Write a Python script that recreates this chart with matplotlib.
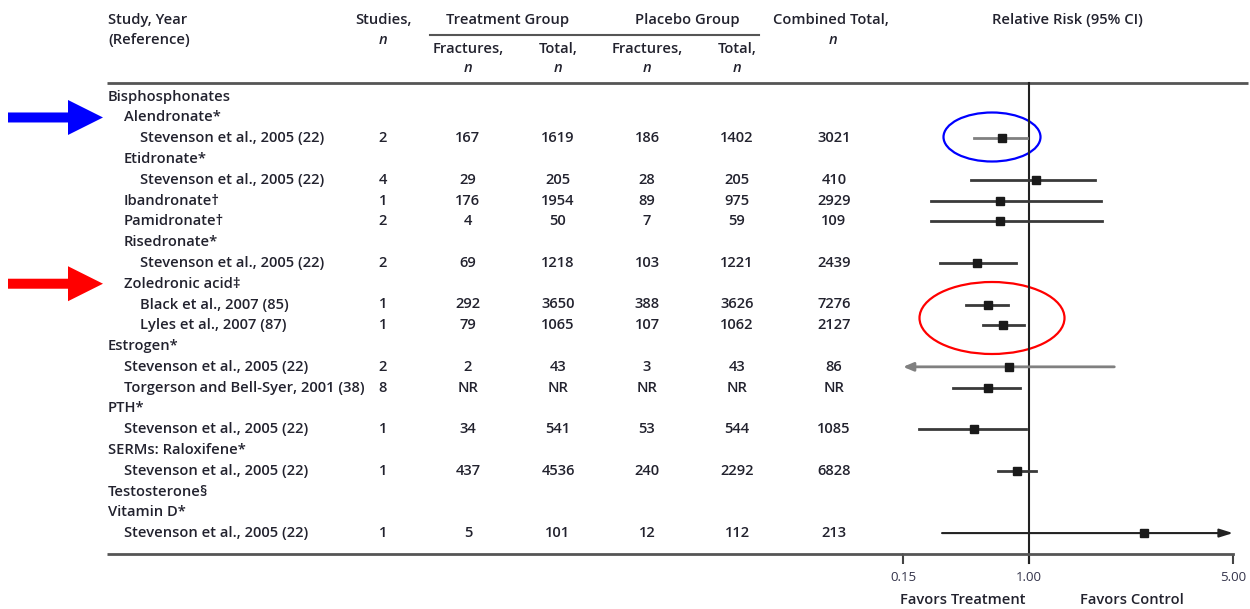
import numpy as np
import matplotlib
matplotlib.use("Agg")
import matplotlib.pyplot as plt
from matplotlib.patches import Ellipse, FancyArrow
from matplotlib.ticker import NullLocator

# --- data ---
labels = [
    "Bisphosphonates", "Alendronate*", "Stevenson et al., 2005 (22)",
    "Etidronate*", "Stevenson et al., 2005 (22)", "Ibandronate\u2020",
    "Pamidronate\u2020", "Risedronate*", "Stevenson et al., 2005 (22)",
    "Zoledronic acid\u2021", "Black et al., 2007 (85)", "Lyles et al., 2007 (87)",
    "Estrogen*", "Stevenson et al., 2005 (22)", "Torgerson and Bell-Syer, 2001 (38)",
    "PTH*", "Stevenson et al., 2005 (22)", "SERMs: Raloxifene*",
    "Stevenson et al., 2005 (22)", "Testosterone\u00a7", "Vitamin D*",
    "Stevenson et al., 2005 (22)",
]
indent = [0, 1, 2, 1, 2, 1, 1, 1, 2, 1, 2, 2, 0, 1, 1, 0, 1, 0, 1, 0, 0, 1]

# rows that carry numbers
data_rows = [2, 4, 5, 6, 8, 10, 11, 13, 14, 16, 18, 21]
n_studies = ["2", "4", "1", "2", "2", "1", "1", "2", "8", "1", "1", "1"]
trt_fx = ["167", "29", "176", "4", "69", "292", "79", "2", "NR", "34", "437", "5"]
trt_total = ["1619", "205", "1954", "50", "1218", "3650", "1065", "43", "NR", "541", "4536", "101"]
pla_fx = ["186", "28", "89", "7", "103", "388", "107", "3", "NR", "53", "240", "12"]
pla_total = ["1402", "205", "975", "59", "1221", "3626", "1062", "43", "NR", "544", "2292", "112"]
combined = ["3021", "410", "2929", "109", "2439", "7276", "2127", "86", "NR", "1085", "6828", "213"]

# relative risk with 95% CI
rr = [0.67, 1.06, 0.65, 0.65, 0.46, 0.54, 0.68, 0.74, 0.54, 0.44, 0.84, 2.48]
ci_lo = [0.44, 0.42, 0.23, 0.23, 0.26, 0.39, 0.50, 0.05, 0.32, 0.19, 0.63, 0.27]
ci_hi = [0.97, 1.68, 1.77, 1.78, 0.82, 0.73, 0.93, 1.96, 0.87, 0.96, 1.06, 9.0]

tick_vals = [0.15, 1.0, 5.0]
tick_text = ["0.15", "1.00", "5.00"]

# --- layout ---
W, H = 1250, 609
row0, row_step = 96.7, 20.78
def row_px(i):
    return row0 + row_step * i

indent_x = [108, 124, 140]
col_x = [383, 468, 558, 647, 737, 834]
txt_color = "#22222e"
font = ["Open Sans", "DejaVu Sans"]
fs = 10.6

plt.rcParams["font.family"] = font

fig = plt.figure(figsize=(W / 100, H / 100), dpi=100)
ax0 = fig.add_axes([0, 0, 1, 1])
ax0.set_xlim(0, W)
ax0.set_ylim(H, 0)
ax0.axis("off")

tkw = dict(color=txt_color, fontsize=fs, fontweight="semibold", va="center")

# header
ax0.text(108, 20, "Study, Year", ha="left", **tkw)
ax0.text(108, 40, "(Reference)", ha="left", **tkw)
ax0.text(383, 20, "Studies,", ha="center", **tkw)
ax0.text(383, 40, "n", ha="center", style="italic", **tkw)
ax0.text(508, 20, "Treatment Group", ha="center", **tkw)
ax0.text(687, 20, "Placebo Group", ha="center", **tkw)
ax0.plot([430, 759], [35, 35], color="#555555", lw=1.5)
for x, head in zip(col_x[1:5], ["Fractures,", "Total,", "Fractures,", "Total,"]):
    ax0.text(x, 49, head, ha="center", **tkw)
    ax0.text(x, 68, "n", ha="center", style="italic", **tkw)
ax0.text(831, 20, "Combined Total,", ha="center", **tkw)
ax0.text(833, 40, "n", ha="center", style="italic", **tkw)
ax0.text(1067, 20, "Relative Risk (95% CI)", ha="center", **tkw)

# rules
ax0.plot([107, 1248], [83, 83], color="#555555", lw=2, solid_capstyle="butt")
ax0.plot([107, 903], [554, 554], color="#555555", lw=2, solid_capstyle="butt")

# study labels
for i, (lab, lev) in enumerate(zip(labels, indent)):
    ax0.text(indent_x[lev], row_px(i), lab, ha="left", **tkw)

# numeric columns
columns = [n_studies, trt_fx, trt_total, pla_fx, pla_total, combined]
for x, col in zip(col_x, columns):
    for r, val in zip(data_rows, col):
        ax0.text(x, row_px(r), val, ha="center", **tkw)

# highlight arrows
ax0.add_patch(FancyArrow(8, row_px(1), 95, 0, width=10, head_width=35,
                         head_length=35, length_includes_head=True,
                         color="#0000ff", lw=0))
ax0.add_patch(FancyArrow(8, row_px(9), 95, 0, width=10, head_width=35,
                         head_length=35, length_includes_head=True,
                         color="#ff0000", lw=0))

# --- forest plot ---
left_px, right_px, top_px, bot_px = 903, 1233, 83, 554
wl, wr = 126.0, 204.0  # pixel spans of 0.15-1 and 1-5

def fwd(x):
    lx = np.log(np.clip(x, 1e-9, None))
    return np.where(lx < 0, lx / np.log(1 / 0.15) * wl, lx / np.log(5) * wr)

def inv(y):
    return np.where(y < 0, np.exp(y / wl * np.log(1 / 0.15)),
                    np.exp(y / wr * np.log(5)))

axf = fig.add_axes([left_px / W, (H - bot_px) / H,
                    (right_px - left_px) / W, (bot_px - top_px) / H])
axf.patch.set_visible(False)
axf.set_xscale("function", functions=(fwd, inv))
axf.set_xlim(0.15, 5.0)
y_top = (top_px - row0) / row_step
y_bot = (bot_px - row0) / row_step
axf.set_ylim(y_bot, y_top)

for s in ["top", "left", "right"]:
    axf.spines[s].set_visible(False)
axf.spines["bottom"].set_color("#555555")
axf.spines["bottom"].set_linewidth(2)
axf.set_yticks([])
axf.set_xticks(tick_vals)
axf.set_xticklabels(tick_text)
axf.xaxis.set_minor_locator(NullLocator())
axf.tick_params(axis="x", direction="out", length=7, width=1.5,
                color="#444444", labelsize=9.5, labelcolor="#33334a", pad=5)

# reference line at RR = 1
y_ext = (563 - row0) / row_step
axf.plot([1, 1], [y_top, y_ext], color="#222222", lw=1.5, clip_on=False)

light = {2, 13}
xmin, xmax = axf.get_xlim()
for r, m, lo, hi in zip(data_rows, rr, ci_lo, ci_hi):
    c = "#808080" if r in light else "#3a3a3a"
    if lo < xmin:
        axf.annotate("", xy=(xmin, r), xytext=(hi, r),
                     arrowprops=dict(arrowstyle="-|>,head_length=0.6,head_width=0.25",
                                     color=c, lw=2, shrinkA=0, shrinkB=0))
    elif hi > xmax:
        axf.annotate("", xy=(xmax, r), xytext=(lo, r),
                     arrowprops=dict(arrowstyle="-|>,head_length=0.8,head_width=0.25",
                                     color="#222222", lw=1.5, shrinkA=0, shrinkB=0))
    else:
        axf.plot([lo, hi], [r, r], color=c, lw=2)
    axf.plot(m, r, marker="s", ms=6, color="#1a1a1a", zorder=5)

# circled highlights
ax0.add_patch(Ellipse((992, 137), 97, 49, fill=False, ec="#0000ff", lw=1.6))
ax0.add_patch(Ellipse((992, 318), 145, 72, fill=False, ec="#ff0000", lw=1.6))

ax0.text(963, 600, "Favors Treatment", ha="center", **tkw)
ax0.text(1132, 600, "Favors Control", ha="center", **tkw)

fig.savefig("out.png", dpi=100)
